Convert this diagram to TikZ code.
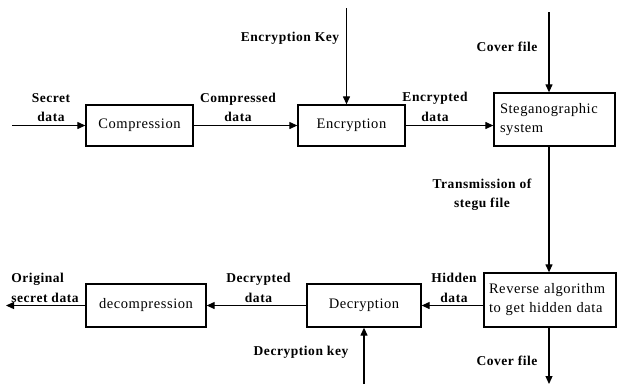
\documentclass[tikz,border=0pt]{standalone}
\usepackage{fontspec}
\setmainfont{Liberation Serif}[LetterSpace=4]
\usetikzlibrary{arrows.meta}
\begin{document}
\begin{tikzpicture}[x=1pt,y=-1pt,
  blk/.style={draw,line width=1.3pt,inner sep=0pt,font=\fontsize{14.5}{19}\selectfont},
  lbl/.style={inner sep=0pt,align=center,font=\fontsize{13.5}{19.5}\selectfont\bfseries},
  flow/.style={line width=1.2pt,-{Triangle[length=8pt,width=7pt]}}]
\useasboundingbox (0,0) rectangle (618,384);
% boxes
\node[blk,minimum width=107pt,minimum height=41pt] (cmp) at (139.5,125.5) {Compression};
\node[blk,minimum width=107pt,minimum height=41pt] (enc) at (351.5,125.5) {Encryption};
\node[blk,minimum width=121pt,minimum height=53pt,align=left,text width=109pt] (stg) at (554.5,119.5) {Steganographic\\system};
\node[blk,minimum width=132pt,minimum height=54pt,align=left,text width=122pt] (rev) at (550,300) {Reverse algorithm\\to get hidden data};
\node[blk,minimum width=114pt,minimum height=43pt] (dec) at (364,305.5) {Decryption};
\node[blk,minimum width=120pt,minimum height=43pt] (dcm) at (146,305.5) {decompression};
% free ends
\coordinate (in) at (12,125.5);
\coordinate (out) at (6,305.5);
\coordinate (ek) at (346.5,8);
\coordinate (cf) at (549,12);
\coordinate (cfo) at (549,384);
\coordinate (dk) at (364,384);
% connectors
\draw[flow] (in) -- (cmp.west);
\draw[flow] (cmp.east) -- (enc.west);
\draw[flow] (enc.east) -- (enc.east -| stg.west);
\draw[flow] (ek) -- (ek |- enc.north);
\draw[flow] (cf) -- (cf |- stg.north);
\draw[flow] (cf |- stg.south) -- (cf |- rev.north);
\draw[flow] (cf |- rev.south) -- (cfo);
\draw[flow] (rev.west |- dec.east) -- (dec.east);
\draw[flow] (dk) -- (dec.south);
\draw[flow] (dec.west) -- (dcm.east);
\draw[flow] (dcm.west) -- (out);
% labels
\node[lbl] (l1) at (51,107.5) {Secret\\data};
\node[lbl] (l2) at (238,107.5) {Compressed\\data};
\node[lbl] (l3) at (290,38) {Encryption Key};
\node[lbl] (l4) at (435,107) {Encrypted\\data};
\node[lbl] (l5) at (507,47) {Cover file};
\node[lbl] (l6) at (482,194.5) {Transmission of\\stegu file};
\node[lbl] (l7) at (454,288) {Hidden\\data};
\node[lbl] (l8) at (258.5,288) {Decrypted\\data};
\node[lbl,align=left] (l9) at (45,288) {Original\\secret data};
\node[lbl] (l10) at (301,352) {Decryption key};
\node[lbl] (l11) at (507,361) {Cover file};
\end{tikzpicture}
\end{document}
